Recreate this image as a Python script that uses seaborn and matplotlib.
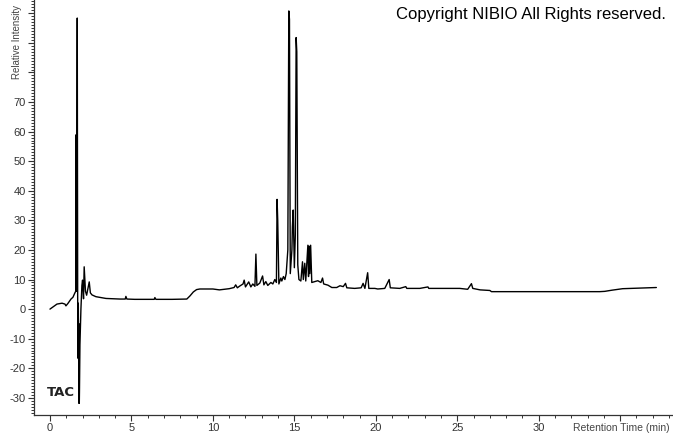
import matplotlib
matplotlib.use("Agg")
import matplotlib.pyplot as plt
import seaborn as sns
import pandas as pd
from matplotlib.ticker import MultipleLocator, FixedLocator, FixedFormatter

# Chromatogram (TAC): retention time (min) vs relative intensity
time_min = [
    0.0, 0.18, 0.43, 0.74, 0.92, 0.98, 1.10, 1.29, 1.41, 1.53, 1.60,
    1.62, 1.625, 1.63, 1.635, 1.64, 1.675, 1.70, 1.72, 1.74, 1.78, 1.79,
    1.80, 1.81, 1.84, 1.90, 1.96, 2.00, 2.06, 2.10, 2.18, 2.25, 2.33,
    2.41, 2.48, 2.58, 2.82, 3.44, 4.30, 4.62, 4.66, 4.72, 5.20, 6.00,
    6.40, 6.44, 6.50, 7.50, 8.40, 8.60, 8.80, 9.00, 9.20, 10.00, 10.40,
    11.00, 11.30, 11.40, 11.50, 11.65, 11.85, 11.92, 12.00, 12.20, 12.33,
    12.45, 12.58, 12.64, 12.70, 12.88, 13.05, 13.13, 13.25, 13.37, 13.56,
    13.68, 13.80, 13.90, 13.94, 13.98, 14.05, 14.17, 14.23, 14.33, 14.42,
    14.50, 14.60, 14.66, 14.70, 14.75, 14.85, 14.88, 14.93, 15.00, 15.06,
    15.11, 15.15, 15.21, 15.28, 15.40, 15.50, 15.55, 15.64, 15.70, 15.83,
    15.87, 15.90, 15.95, 16.00, 16.07, 16.20, 16.44, 16.63, 16.73, 16.80,
    17.06, 17.30, 17.60, 17.80, 18.00, 18.14, 18.22, 18.70, 19.10, 19.22,
    19.33, 19.50, 19.57, 19.94, 20.12, 20.55, 20.82, 20.89, 21.47, 21.84,
    21.90, 22.70, 23.20, 23.25, 25.15, 25.64, 25.87, 25.95, 26.40, 27.00,
    27.10, 33.74, 34.05, 34.50, 35.15, 36.20, 37.22,
]
intensity = [
    0.0, 0.7, 1.7, 2.0, 1.7, 1.1, 1.9, 3.4, 4.0, 5.5, 6.2,
    59.0, 6.0, 59.0, 7.0, 20.0, 98.4, 5.0, -16.6, 2.0, -31.8, -5.0,
    -31.8, -28.0, -12.0, 0.0, 8.0, 9.8, 3.5, 14.3, 6.0, 4.7, 7.0,
    9.2, 5.5, 4.8, 4.2, 3.6, 3.4, 3.4, 4.3, 3.4, 3.3, 3.3,
    3.3, 3.9, 3.3, 3.3, 3.4, 4.5, 5.8, 6.6, 6.8, 6.8, 6.5,
    6.9, 7.3, 8.2, 7.2, 7.8, 8.5, 9.8, 7.5, 9.2, 7.5,
    8.5, 7.7, 18.6, 8.0, 8.8, 11.2, 8.2, 9.3, 8.0, 9.0,
    8.5, 10.0, 9.0, 37.1, 30.0, 8.5, 10.5, 9.5, 11.0, 10.0,
    12.0, 20.0, 100.8, 98.0, 12.0, 20.0, 27.8, 33.5, 14.0, 25.0,
    91.8, 87.0, 15.0, 10.0, 9.5, 16.0, 10.0, 15.5, 9.5, 21.6,
    11.0, 21.3, 12.0, 21.6, 9.0, 9.2, 9.6, 9.0, 10.5, 8.5,
    8.1, 7.3, 7.3, 7.9, 7.6, 8.7, 7.2, 7.0, 7.2, 8.7,
    7.0, 12.3, 7.0, 7.0, 6.8, 7.0, 10.0, 7.2, 7.0, 7.6,
    7.0, 7.0, 7.5, 7.0, 7.0, 6.7, 8.6, 7.0, 6.5, 6.3,
    5.9, 5.9, 6.0, 6.4, 6.9, 7.1, 7.3,
]
x_tick_values = [0, 5, 10, 15, 20, 25, 30, 35]
x_tick_labels = ["0", "5", "10", "15", "20", "25", "30", ""]
y_tick_values = [-30, -20, -10, 0, 10, 20, 30, 40, 50, 60, 70, 80, 90, 100]
y_tick_labels = ["-30", "-20", "-10", "0", "10", "20", "30", "40", "50", "60", "70", "", "", ""]

df = pd.DataFrame({"time": time_min, "intensity": intensity})

sns.set_style("ticks")
plt.rcParams["font.family"] = ["Liberation Sans", "DejaVu Sans"]

fig = plt.figure(figsize=(6.73, 4.33), dpi=100)
ax = fig.add_axes([34 / 673, 18 / 433, 1 - 34 / 673 - 0.001, 1 - 18 / 433])

sns.lineplot(data=df, x="time", y="intensity", ax=ax, color="black",
             linewidth=1.0, sort=False, estimator=None)

ax.set_xlim(-0.98, 38.2)
ax.set_ylim(-35.8, 104.5)
ax.set_xlabel("")
ax.set_ylabel("")

ax.xaxis.set_major_locator(FixedLocator(x_tick_values))
ax.xaxis.set_major_formatter(FixedFormatter(x_tick_labels))
ax.xaxis.set_minor_locator(MultipleLocator(1))
ax.yaxis.set_major_locator(FixedLocator(y_tick_values))
ax.yaxis.set_major_formatter(FixedFormatter(y_tick_labels))
ax.yaxis.set_minor_locator(MultipleLocator(1))

ax.tick_params(axis="both", which="major", length=4, width=0.8, color="#333333",
               labelsize=8, labelcolor="#333333", pad=2, direction="out")
ax.tick_params(axis="both", which="minor", length=2.5, width=0.7, color="#333333",
               direction="out")

for side in ("top", "right"):
    ax.spines[side].set_visible(False)
for side in ("left", "bottom"):
    ax.spines[side].set_color("#333333")
    ax.spines[side].set_linewidth(0.9)

fig.text(666 / 673, 1 - 14 / 433, "Copyright NIBIO All Rights reserved.",
         ha="right", va="center", fontsize=12, color="black")
fig.text(670 / 673, 1 - 428 / 433, "Retention Time (min)",
         ha="right", va="center", fontsize=7.5, color="#444444")
fig.text(17 / 673, 1 - 79 / 433, "Relative Intensity",
         ha="center", va="bottom", rotation=90, fontsize=7.0, color="#444444")
fig.text(47 / 673, 1 - 393 / 433, "TAC", ha="left", va="center",
         fontsize=9.5, fontweight="bold", color="#222222",
         family=["DejaVu Sans"])

fig.savefig("out.png", dpi=100)
